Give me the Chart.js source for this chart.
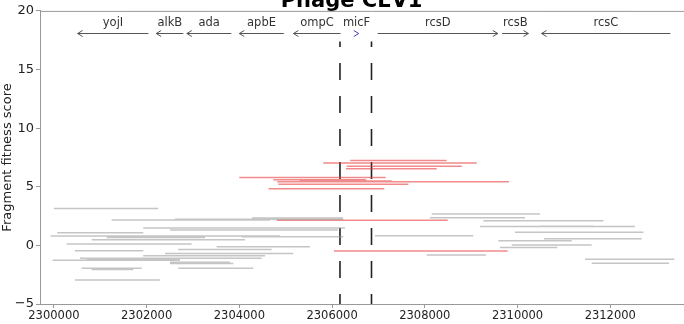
<!DOCTYPE html>
<html>
<head>
<meta charset="utf-8">
<script src="https://cdn.jsdelivr.net/npm/chart.js@4"></script>
<style>
    html, body { margin: 0; padding: 0; background: #fff; overflow: hidden; width: 684px; height: 324px; }
    #wrap { position: relative; width: 684px; height: 324px; overflow: hidden; }
    #chart { position: absolute; left: 0; top: -8px; }
</style>
</head>
<body>
<div id="wrap"><canvas id="chart" width="703" height="332"></canvas></div>
<script>
// fragments (grey = not significant, red = significant)
const greyStart = [2300000, 2301245, 2302611, 2304272, 2301927, 2302503, 2300071, 2299929, 2301137, 2300813,
    2304049, 2300273, 2303510, 2300453, 2301316, 2302682, 2302395, 2301927, 2300561, 2300705,
    2299971, 2302503, 2302503, 2300597, 2300813, 2302682, 2300453,
    2306926, 2308041, 2308148, 2308112, 2309263, 2309191, 2310486, 2309946, 2310572, 2309586,
    2309874, 2309622, 2311456, 2311600];
const greyEnd = [2302250, 2304660, 2306242, 2306235, 2306278, 2306127, 2301927, 2304876, 2303258, 2304121,
    2306242, 2302970, 2305523, 2301927, 2301748, 2304697, 2305163, 2304553, 2304481, 2302718,
    2302718, 2303797, 2303869, 2301892, 2301711, 2304300, 2302287,
    2309046, 2309320, 2310486, 2310162, 2311852, 2312535, 2311636, 2312715, 2312680, 2311169,
    2311600, 2310859, 2313383, 2313268];
const greyScore = [3.14, 2.17, 2.22, 2.34, 1.48, 1.31, 1.08, 0.80, 0.68, 0.48,
    0.74, 0.11, -0.12, -0.46, -0.46, -0.35, -0.69, -0.89, -1.09, -1.17,
    -1.26, -1.43, -1.55, -1.95, -2.06, -1.95, -2.95,
    0.82, -0.83, 2.68, 2.36, 2.11, 1.62, 1.64, 1.11, 0.57, 0.39,
    0.03, -0.18, -1.18, -1.52];

const redStart = [2306390, 2305811, 2306315, 2306300, 2303998, 2304732, 2305300, 2304818, 2304840, 2304632, 2304805, 2306041];
const redEnd = [2308470, 2309120, 2308796, 2308257, 2307156, 2306731, 2307286, 2309817, 2307645, 2307126, 2308494, 2309788];
const redScore = [7.25, 7.02, 6.74, 6.54, 5.80, 5.60, 5.50, 5.43, 5.22, 4.82, 2.15, -0.48];

// genes along the top
const geneNames = ['yojI', 'alkB', 'ada', 'apbE', 'ompC', 'micF', 'rcsD', 'rcsB', 'rcsC'];
const geneStart = [2300511, 2302207, 2302867, 2303998, 2305166, 2306480, 2306984, 2309670, 2310518];
const geneEnd = [2302039, 2302792, 2303827, 2304958, 2306184, 2306575, 2309575, 2310235, 2313297];
const geneStrand = [-1, -1, -1, -1, -1, 1, 1, 1, -1];

// boundaries of the region of interest
const markers = [2306170, 2306850];

const xTicks = [2300000, 2302000, 2304000, 2306000, 2308000, 2310000, 2312000];
const yTicks = [-5, 0, 5, 10, 15, 20];

const geneTrackY = 18.1;
const geneLabelY = 19.0;

function segments(starts, ends, scores) {
    const pts = [];
    starts.forEach((s, i) => {
        pts.push({ x: s, y: scores[i] });
        pts.push({ x: ends[i], y: scores[i] });
        pts.push({ x: ends[i], y: null });
    });
    return pts;
}

const genePlugin = {
    id: 'genes',
    afterDatasetsDraw(chart) {
        const { ctx, chartArea } = chart;
        const xs = chart.scales.x, ys = chart.scales.y;
        ctx.save();
        // top spine
        ctx.strokeStyle = '#999';
        ctx.lineWidth = 1;
        ctx.beginPath();
        ctx.moveTo(chartArea.left, chartArea.top + 0.5);
        ctx.lineTo(chartArea.right, chartArea.top + 0.5);
        ctx.stroke();

        const yy = Math.round(ys.getPixelForValue(geneTrackY)) + 0.5;
        const ly = ys.getPixelForValue(geneLabelY);
        ctx.font = '11.5px "DejaVu Sans"';
        ctx.textAlign = 'center';
        ctx.textBaseline = 'middle';
        geneNames.forEach((name, i) => {
            const x0 = xs.getPixelForValue(geneStart[i]);
            const x1 = xs.getPixelForValue(geneEnd[i]);
            const tip = geneStrand[i] > 0 ? x1 : x0;
            const d = geneStrand[i] > 0 ? -1 : 1;
            const short = x1 - x0 < 8;
            ctx.strokeStyle = short ? '#4040c0' : '#555';
            ctx.lineWidth = 1;
            ctx.beginPath();
            if (!short) {
                ctx.moveTo(x0, yy);
                ctx.lineTo(x1, yy);
            }
            ctx.moveTo(tip + d * 5, yy - 3);
            ctx.lineTo(tip, yy);
            ctx.lineTo(tip + d * 5, yy + 3);
            ctx.stroke();
            ctx.fillStyle = '#333';
            ctx.fillText(name, (x0 + x1) / 2, ly);
        });
        ctx.restore();
    }
};

const datasets = [
    {
        data: segments(greyStart, greyEnd, greyScore),
        borderColor: 'rgba(150,150,150,0.55)',
        borderWidth: 1.5
    },
    {
        data: segments(redStart, redEnd, redScore),
        borderColor: 'rgba(232,60,60,0.6)',
        borderWidth: 1.5
    }
];
markers.forEach(m => {
    datasets.push({
        data: [{ x: m, y: -5 }, { x: m, y: 17.4 }],
        borderColor: '#222',
        borderWidth: 1.6,
        borderDash: [17, 16],
        borderDashOffset: 7
    });
});

new Chart(document.getElementById('chart'), {
    type: 'scatter',
    data: { datasets: datasets },
    options: {
        responsive: false,
        animation: false,
        showLine: true,
        elements: { point: { radius: 0, hoverRadius: 0 }, line: { tension: 0 } },
        layout: { padding: { left: 0, right: 0, top: 0, bottom: 0 } },
        plugins: {
            legend: { display: false },
            tooltip: { enabled: false },
            title: {
                display: true,
                text: 'Phage CEV1',
                color: '#000',
                font: { family: 'DejaVu Sans', size: 21, weight: 'bold', lineHeight: 0.9 },
                padding: { top: 0, bottom: 0 }
            }
        },
        scales: {
            x: {
                type: 'linear',
                min: 2299700,
                max: 2314000,
                afterBuildTicks: scale => { scale.ticks = xTicks.map(v => ({ value: v })); },
                afterFit: scale => { scale.height = 20; },
                grid: { drawOnChartArea: false, color: '#999', tickLength: 4 },
                border: { color: '#999' },
                ticks: {
                    color: '#222',
                    padding: 1,
                    maxRotation: 0,
                    font: { family: 'DejaVu Sans', size: 11.5 },
                    callback: v => String(v)
                }
            },
            y: {
                min: -5,
                max: 20,
                afterBuildTicks: scale => { scale.ticks = yTicks.map(v => ({ value: v })); },
                afterFit: scale => { scale.width = 40; },
                grid: { drawOnChartArea: false, color: '#999', tickLength: 4 },
                border: { color: '#999' },
                title: {
                    display: true,
                    text: 'Fragment fitness score',
                    color: '#222',
                    font: { family: 'DejaVu Sans', size: 13 },
                    padding: { top: 0, bottom: 0 }
                },
                ticks: {
                    color: '#222',
                    padding: 2,
                    font: { family: 'DejaVu Sans', size: 13 },
                    callback: v => v < 0 ? '\u2212' + Math.abs(v) : String(v)
                }
            }
        }
    },
    plugins: [genePlugin]
});
</script>
</body>
</html>
